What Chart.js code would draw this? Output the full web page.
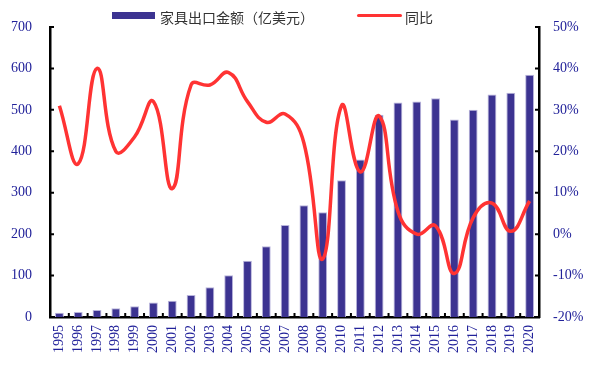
<!DOCTYPE html>
<html>
<head>
<meta charset="utf-8">
<script src="https://cdn.jsdelivr.net/npm/chart.js@4/dist/chart.umd.min.js"></script>
<style>
  html, body { margin: 0; padding: 0; background: #fff; }
  #wrap { position: relative; width: 600px; height: 366px; }
  #legend { position: absolute; top: 6px; left: 0; width: 600px; height: 22px;
            font-family: "Noto Sans CJK SC", "Noto Sans", sans-serif; font-size: 14px; color: #333; }
  .item { position: absolute; top: 0; line-height: 22px; white-space: nowrap; }
  .sw { position: absolute; }
</style>
</head>
<body>
<div id="wrap">
  <canvas id="chart" width="600" height="366"></canvas>
  <div id="legend">
    <span class="sw" style="left:112px;top:6px;width:43px;height:7px;background:#3c3391;"></span>
    <span class="item" style="left:160px;">家具出口金额（亿美元）</span>
    <span class="sw" style="left:357px;top:8px;width:45px;height:3px;background:#ff3333;border-radius:2px;"></span>
    <span class="item" style="left:405px;">同比</span>
  </div>
</div>
<script>
// years on the x axis
const years = ["1995","1996","1997","1998","1999","2000","2001","2002","2003","2004","2005","2006","2007",
               "2008","2009","2010","2011","2012","2013","2014","2015","2016","2017","2018","2019","2020"];
// furniture export value, 100 million USD
const exportValue = [10, 12, 17, 21, 26, 35, 39, 53, 72, 101, 136, 171, 222,
                     270, 253, 330, 380, 488, 518, 520, 528, 477, 500, 537, 541, 585];
// year-on-year growth, %
const yoyGrowth = [31, 17, 40, 20, 23.5, 32, 11, 36, 36, 39, 32, 27, 29,
                   22, -6, 31, 15, 28.5, 5.5, 0, 2, -9.5, 4, 7.5, 0.7, 8];

const tickColor = "#22229a";
const serif = { family: "'Liberation Serif', 'DejaVu Serif', serif", size: 14 };

// small tick marks drawn inward, like the original
const innerTicks = {
    id: "innerTicks",
    afterDatasetsDraw(chart) {
        const ctx = chart.ctx;
        const { x, y, y1 } = chart.scales;
        ctx.save();
        ctx.strokeStyle = "#000";
        ctx.lineWidth = 2;
        ctx.beginPath();
        y.ticks.forEach((t, i) => {
            const py = y.getPixelForTick(i);
            ctx.moveTo(y.right, py); ctx.lineTo(y.right + 4, py);
        });
        y1.ticks.forEach((t, i) => {
            const py = y1.getPixelForTick(i);
            ctx.moveTo(y1.left - 4, py); ctx.lineTo(y1.left, py);
        });
        const n = years.length;
        for (let i = 0; i <= n; i++) {
            const px = x.left + i * (x.right - x.left) / n;
            ctx.moveTo(px, x.top); ctx.lineTo(px, x.top - 4);
        }
        ctx.stroke();
        ctx.restore();
    }
};

document.addEventListener("DOMContentLoaded", function() {
    const canvas = document.getElementById("chart");
    new Chart(canvas, {
        data: {
            labels: years,
            datasets: [{
                type: "line",
                label: "同比",
                data: yoyGrowth,
                yAxisID: "y1",
                borderColor: "#ff3333",
                borderWidth: 3.5,
                pointRadius: 0,
                tension: 0.45,
                order: 0,
            }, {
                type: "bar",
                label: "家具出口金额（亿美元）",
                data: exportValue,
                yAxisID: "y",
                backgroundColor: "#3c3391",
                borderColor: "#b9b5dc",
                borderWidth: { top: 1, left: 1, right: 1, bottom: 0 },
                barPercentage: 0.47,
                categoryPercentage: 1,
                order: 1,
            }],
        },
        options: {
            responsive: false,
            animation: false,
            layout: { padding: { top: 27, left: 0, right: 0, bottom: 0 } },
            plugins: { legend: { display: false }, tooltip: { enabled: false } },
            scales: {
                x: {
                    grid: { display: false, drawTicks: false },
                    border: { color: "#000", width: 2.5 },
                    ticks: { color: tickColor, font: serif, minRotation: 90, maxRotation: 90, padding: 8, autoSkip: false },
                    afterFit(scale) { scale.height = 49; },
                },
                y: {
                    position: "left",
                    min: 0, max: 700,
                    grid: { display: false, drawTicks: false },
                    border: { color: "#000", width: 2.5 },
                    ticks: { stepSize: 100, color: tickColor, font: serif, padding: 18 },
                    afterFit(scale) { scale.width = 50; },
                },
                y1: {
                    position: "right",
                    min: -20, max: 50,
                    grid: { display: false, drawTicks: false },
                    border: { color: "#000", width: 2.5 },
                    ticks: { stepSize: 10, color: tickColor, font: serif, padding: 14,
                             callback: v => v + "%" },
                    afterFit(scale) { scale.width = 61; },
                },
            },
        },
        plugins: [innerTicks],
    });
});
</script>
</body>
</html>
